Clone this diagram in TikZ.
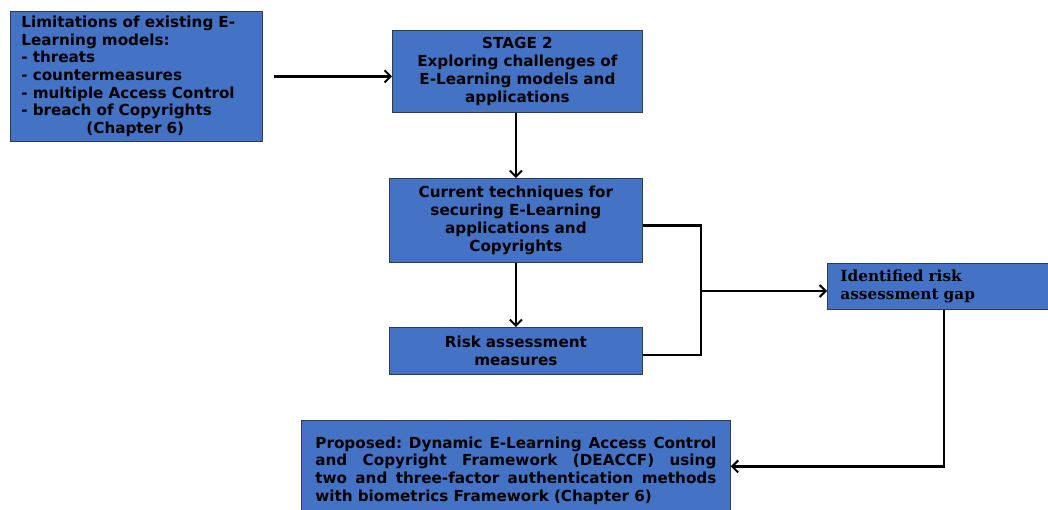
\documentclass[tikz,border=0pt]{standalone}
\usepackage{fontspec}
\setmainfont{DejaVu Sans}
\newfontfamily\gapfont{DejaVu Serif}
\usetikzlibrary{arrows.meta}
\definecolor{boxblue}{HTML}{4472C4}
\definecolor{boxedge}{HTML}{2F3A4A}
% one line spread over the full text width
\newcommand{\fullline}[1]{\makebox[401pt][l]{#1}}
\begin{document}
\begin{tikzpicture}[x=1pt,y=-1pt,
  box/.style={draw=boxedge,line width=0.8pt,fill=boxblue,rectangle,inner sep=0pt,
    anchor=north west,font=\fontsize{15.2}{17.7}\selectfont\bfseries},
  link/.style={line width=2.3pt,black},
  tip/.style={-{Straight Barb[length=6pt,width=12pt,line width=2pt]}}]
\useasboundingbox (0,0) rectangle (1048,510);
\begin{scope}
\clip (0,0) rectangle (1048,510);
\node[box,minimum width=252pt,minimum height=130pt,text width=230pt,align=left] (lim) at (10,11)
  {Limitations of existing E-\\Learning models:\\- threats\\- countermeasures\\- multiple Access Control\\- breach of Copyrights\\\hspace*{65pt}(Chapter 6)};
\node[box,minimum width=250pt,minimum height=82pt,text width=236pt,align=center] (stage) at (392,30)
  {STAGE 2\\Exploring challenges of\\E-Learning models and\\applications};
\node[box,minimum width=253pt,minimum height=84pt,text width=236pt,align=center] (tech) at (389,178)
  {Current techniques for\\securing E-Learning\\applications and\\Copyrights};
\node[box,minimum width=253pt,minimum height=47pt,text width=236pt,align=center] (risk) at (389,327)
  {Risk assessment\\measures};
\node[box,minimum width=233pt,minimum height=46pt,text width=207pt,align=left,
  font=\gapfont\fontsize{15.3}{17.7}\selectfont\bfseries] (gap) at (827,263)
  {Identified risk\\assessment gap};
\node[box,minimum width=429pt,minimum height=100pt,text width=401pt,align=left] (prop) at (301,420)
  {\fullline{Proposed:\hfill Dynamic\hfill E-Learning\hfill Access\hfill Control}\\
   \fullline{and\hfill Copyright\hfill Framework\hfill (DEACCF)\hfill using}\\
   \fullline{two\hfill and\hfill three-factor\hfill authentication\hfill methods}\\
   with biometrics Framework (Chapter 6)};
\end{scope}
\coordinate (join) at (701,291);
\draw[link,tip,shorten <=11pt] (lim.east) -- (lim.east -| stage.west);
\draw[link,tip] (stage.south -| tech.north) -- (tech.north);
\draw[link,tip] (tech.south) -- (risk.north);
\draw[link] ([yshift=-5pt]tech.east) -| (join) |- ([yshift=-4pt]risk.east);
\draw[link,tip] (join) -- (join -| gap.west);
\draw[link,tip] (gap.south) |- ([yshift=4pt]prop.east);
\end{tikzpicture}
\end{document}
